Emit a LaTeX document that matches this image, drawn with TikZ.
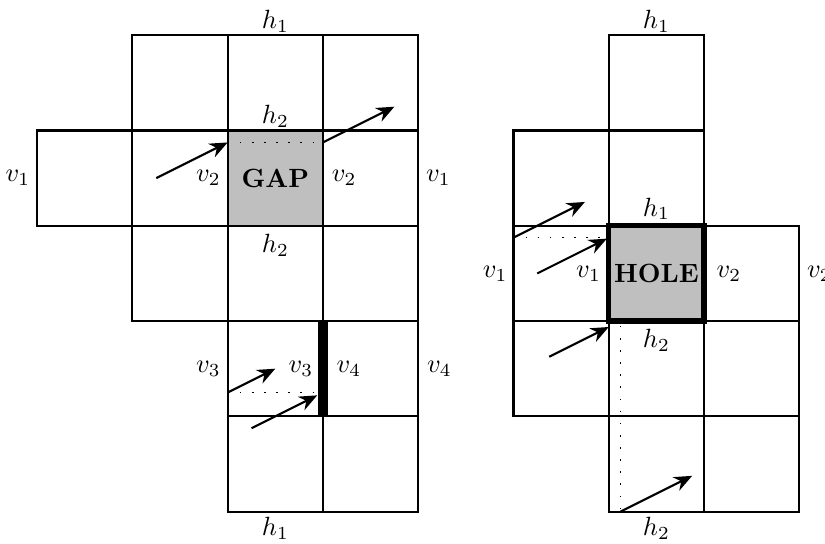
\documentclass[tikz,border=0pt]{standalone}
\usetikzlibrary{arrows.meta}
\tikzset{
  cell/.style={draw, thick},
  gapcell/.style={fill=lightgray},
  holecell/.style={draw, line width=2pt, fill=lightgray},
  seam/.style={line width=3.8pt},
  trace/.style={semithick, dash pattern=on 0.6pt off 4pt},
  pass/.style={-{Stealth[length=2.4mm, width=2mm]}, thick},
  lab/.style={inner sep=1pt}
}
\begin{document}
\begin{tikzpicture}[x=1.27cm, y=1.27cm]
    \useasboundingbox (-0.39,-0.34) rectangle (8.27,5.37);
    % left: glued square with a gap
    \fill[gapcell] (2,3) rectangle (3,4);
    \foreach \c/\r in {1/4,2/4,3/4,0/3,1/3,2/3,3/3,1/2,2/2,3/2,2/1,3/1,2/0,3/0}
      \draw[cell] (\c,\r) rectangle ++(1,1);
    \draw[seam] (3,1) -- (3,2);
    \node (gap) at (2.5,3.5) {\textbf{GAP}};
    \node[lab, above] (lh1t) at (2.5,5) {$h_1$};
    \node[lab, above] (lh2t) at (2.5,4) {$h_2$};
    \node[lab, below=2pt] (lh2b) at (2.5,3) {$h_2$};
    \node[lab, below=1pt] (lh1b) at (2.5,0) {$h_1$};
    \node[lab, left] (lv1l) at (-0.04,3.5) {$v_1$};
    \node[lab, right] (lv1r) at (4.05,3.5) {$v_1$};
    \node[lab, left] (lv2l) at (1.96,3.5) {$v_2$};
    \node[lab, right] (lv2r) at (3.06,3.5) {$v_2$};
    \node[lab, left] (lv3l) at (1.96,1.5) {$v_3$};
    \node[lab, left] (lv3r) at (2.93,1.5) {$v_3$};
    \node[lab, right] (lv4l) at (3.11,1.5) {$v_4$};
    \node[lab, right] (lv4r) at (4.06,1.5) {$v_4$};
    \draw[pass] (1.25,3.5) -- (2,3.875);
    \draw[trace] (2,3.875) -- (3,3.875);
    \draw[pass] (3,3.875) -- (3.75,4.25);
    \draw[pass] (2,1.25) -- (2.5,1.5);
    \draw[trace] (2,1.25) -- (2.94,1.25);
    \draw[pass] (2.25,0.875) -- (2.94,1.22);
    % right: glued square with a hole
    \foreach \c/\r in {6/4,5/3,6/3,5/2,7/2,5/1,6/1,7/1,6/0,7/0}
      \draw[cell] (\c,\r) rectangle ++(1,1);
    \draw[holecell] (6,2) rectangle (7,3);
    \node (hole) at (6.5,2.5) {\textbf{HOLE}};
    \node[lab, above] (rh1t) at (6.5,5) {$h_1$};
    \node[lab, above=1pt] (rh1m) at (6.5,3) {$h_1$};
    \node[lab, below=2pt] (rh2m) at (6.5,2) {$h_2$};
    \node[lab, below=1pt] (rh2b) at (6.5,0) {$h_2$};
    \node[lab, left] (rv1l) at (4.97,2.5) {$v_1$};
    \node[lab, left] (rv1r) at (5.95,2.5) {$v_1$};
    \node[lab, right] (rv2l) at (7.1,2.5) {$v_2$};
    \node[lab, right] (rv2r) at (8.05,2.5) {$v_2$};
    \draw[pass] (5,2.875) -- (5.75,3.25);
    \draw[trace] (5,2.875) -- (6,2.875);
    \draw[pass] (5.25,2.5) -- (5.98,2.865);
    \draw[pass] (5.375,1.625) -- (6,1.9375);
    \draw[trace] (6.125,1.95) -- (6.125,0);
    \draw[pass] (6.125,0) -- (6.875,0.375);
\end{tikzpicture}
\end{document}
